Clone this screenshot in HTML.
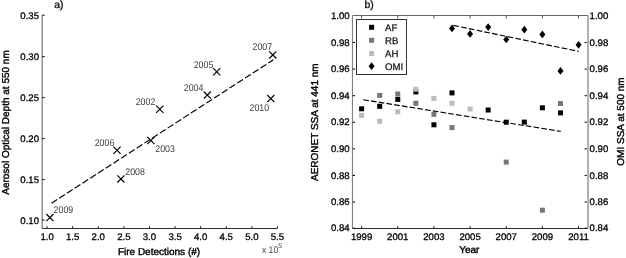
<!DOCTYPE html>
<html><head><meta charset="utf-8"><style>
html,body{margin:0;padding:0;background:#fff;}
svg{display:block;will-change:transform;}
text{font-family:"Liberation Sans",sans-serif;text-rendering:geometricPrecision;}
.tk{font-size:9.6px;fill:#000;stroke:#000;stroke-width:0.3px;}
.lab{font-size:10px;fill:#000;stroke:#000;stroke-width:0.4px;}
.yr{font-size:9.8px;fill:#3c3c3c;}
.sm{font-size:9.5px;fill:#444;}
.sup{font-size:6.8px;fill:#444;}
.ttl{font-size:10.4px;fill:#111;stroke:#111;stroke-width:0.35px;}
.lg{font-size:9.6px;fill:#111;stroke:#111;stroke-width:0.25px;}
</style></head><body>
<svg width="626" height="258" viewBox="0 0 626 258">
<line x1="42.2" y1="15.2" x2="42.2" y2="228.3" stroke="#888" stroke-width="1.4"/>
<line x1="42.2" y1="228.55" x2="277.5" y2="228.55" stroke="#2a2a2a" stroke-width="1.1"/>
<line x1="42.2" y1="15.20" x2="44.6" y2="15.20" stroke="#111" stroke-width="1.1"/>
<text x="39" y="18.70" text-anchor="end" class="tk">0.35</text>
<line x1="42.2" y1="56.58" x2="44.6" y2="56.58" stroke="#111" stroke-width="1.1"/>
<text x="39" y="59.68" text-anchor="end" class="tk">0.30</text>
<line x1="42.2" y1="97.56" x2="44.6" y2="97.56" stroke="#111" stroke-width="1.1"/>
<text x="39" y="100.66" text-anchor="end" class="tk">0.25</text>
<line x1="42.2" y1="138.54" x2="44.6" y2="138.54" stroke="#111" stroke-width="1.1"/>
<text x="39" y="141.64" text-anchor="end" class="tk">0.20</text>
<line x1="42.2" y1="179.52" x2="44.6" y2="179.52" stroke="#111" stroke-width="1.1"/>
<text x="39" y="182.62" text-anchor="end" class="tk">0.15</text>
<line x1="42.2" y1="220.10" x2="44.6" y2="220.10" stroke="#111" stroke-width="1.1"/>
<text x="39" y="223.60" text-anchor="end" class="tk">0.10</text>
<line x1="47.05" y1="228.3" x2="47.05" y2="226.10000000000002" stroke="#222" stroke-width="1"/>
<text x="47.05" y="239.6" text-anchor="middle" class="tk">1.0</text>
<line x1="72.65" y1="228.3" x2="72.65" y2="226.10000000000002" stroke="#222" stroke-width="1"/>
<text x="72.65" y="239.6" text-anchor="middle" class="tk">1.5</text>
<line x1="98.25" y1="228.3" x2="98.25" y2="226.10000000000002" stroke="#222" stroke-width="1"/>
<text x="98.25" y="239.6" text-anchor="middle" class="tk">2.0</text>
<line x1="123.85" y1="228.3" x2="123.85" y2="226.10000000000002" stroke="#222" stroke-width="1"/>
<text x="123.85" y="239.6" text-anchor="middle" class="tk">2.5</text>
<line x1="149.45" y1="228.3" x2="149.45" y2="226.10000000000002" stroke="#222" stroke-width="1"/>
<text x="149.45" y="239.6" text-anchor="middle" class="tk">3.0</text>
<line x1="175.05" y1="228.3" x2="175.05" y2="226.10000000000002" stroke="#222" stroke-width="1"/>
<text x="175.05" y="239.6" text-anchor="middle" class="tk">3.5</text>
<line x1="200.65" y1="228.3" x2="200.65" y2="226.10000000000002" stroke="#222" stroke-width="1"/>
<text x="200.65" y="239.6" text-anchor="middle" class="tk">4.0</text>
<line x1="226.25" y1="228.3" x2="226.25" y2="226.10000000000002" stroke="#222" stroke-width="1"/>
<text x="226.25" y="239.6" text-anchor="middle" class="tk">4.5</text>
<line x1="251.85" y1="228.3" x2="251.85" y2="226.10000000000002" stroke="#222" stroke-width="1"/>
<text x="251.85" y="239.6" text-anchor="middle" class="tk">5.0</text>
<line x1="277.45" y1="228.3" x2="277.45" y2="226.10000000000002" stroke="#222" stroke-width="1"/>
<text x="277.45" y="239.6" text-anchor="middle" class="tk">5.5</text>
<text x="159.0" y="255.3" text-anchor="middle" class="lab">Fire Detections (#)</text>
<text x="261.9" y="252.8" class="sm" textLength="16.3" lengthAdjust="spacingAndGlyphs">x 10</text><text x="278.3" y="248.3" class="sup">5</text>
<text x="58.8" y="8.3" text-anchor="middle" class="ttl">a)</text>
<text transform="translate(9.3,122.5) rotate(-90)" text-anchor="middle" class="lab">Aerosol Optical Depth at 550 nm</text>
<path d="M46.30,214.00L53.50,221.20M46.30,221.20L53.50,214.00" stroke="#000" stroke-width="1.2" fill="none"/>
<text x="53.6" y="212.8" class="yr" textLength="19.6" lengthAdjust="spacingAndGlyphs">2009</text>
<path d="M113.40,146.60L120.60,153.80M113.40,153.80L120.60,146.60" stroke="#000" stroke-width="1.2" fill="none"/>
<text x="94.7" y="146.2" class="yr" textLength="19.6" lengthAdjust="spacingAndGlyphs">2006</text>
<path d="M117.30,175.30L124.50,182.50M117.30,182.50L124.50,175.30" stroke="#000" stroke-width="1.2" fill="none"/>
<text x="125.3" y="175.0" class="yr" textLength="19.6" lengthAdjust="spacingAndGlyphs">2008</text>
<path d="M147.30,136.90L154.50,144.10M147.30,144.10L154.50,136.90" stroke="#000" stroke-width="1.2" fill="none"/>
<text x="155.3" y="152.1" class="yr" textLength="19.6" lengthAdjust="spacingAndGlyphs">2003</text>
<path d="M156.20,105.70L163.40,112.90M156.20,112.90L163.40,105.70" stroke="#000" stroke-width="1.2" fill="none"/>
<text x="135.7" y="105.1" class="yr" textLength="19.6" lengthAdjust="spacingAndGlyphs">2002</text>
<path d="M203.70,91.50L210.90,98.70M203.70,98.70L210.90,91.50" stroke="#000" stroke-width="1.2" fill="none"/>
<text x="183.8" y="91.1" class="yr" textLength="19.6" lengthAdjust="spacingAndGlyphs">2004</text>
<path d="M213.10,68.10L220.30,75.30M213.10,75.30L220.30,68.10" stroke="#000" stroke-width="1.2" fill="none"/>
<text x="193.7" y="67.7" class="yr" textLength="19.6" lengthAdjust="spacingAndGlyphs">2005</text>
<path d="M269.20,51.30L276.40,58.50M269.20,58.50L276.40,51.30" stroke="#000" stroke-width="1.2" fill="none"/>
<text x="252.5" y="50.1" class="yr" textLength="19.6" lengthAdjust="spacingAndGlyphs">2007</text>
<path d="M267.20,95.00L274.40,102.20M267.20,102.20L274.40,95.00" stroke="#000" stroke-width="1.2" fill="none"/>
<text x="249.5" y="111.0" class="yr" textLength="19.6" lengthAdjust="spacingAndGlyphs">2010</text>
<line x1="51.5" y1="203.2" x2="273.5" y2="59.7" stroke="#000" stroke-width="1.15" stroke-dasharray="6.75 2.47"/>
<line x1="352.45" y1="15.5" x2="352.45" y2="228.2" stroke="#808080" stroke-width="1.1"/>
<line x1="588" y1="15.5" x2="588" y2="228.2" stroke="#b2b2b2" stroke-width="2"/>
<line x1="352.6" y1="15.5" x2="587.8" y2="15.5" stroke="#666" stroke-width="1"/>
<line x1="352.6" y1="228.55" x2="587.8" y2="228.55" stroke="#2a2a2a" stroke-width="1.1"/>
<text x="349.6" y="18.70" text-anchor="end" class="tk">1.00</text>
<text x="589.6" y="18.70" class="tk">1.00</text>
<line x1="352.6" y1="42.49" x2="355.0" y2="42.49" stroke="#111" stroke-width="1.1"/>
<line x1="586.8" y1="42.49" x2="584.5999999999999" y2="42.49" stroke="#111" stroke-width="1.1"/>
<text x="349.6" y="45.69" text-anchor="end" class="tk">0.98</text>
<text x="589.6" y="45.69" class="tk">0.98</text>
<line x1="352.6" y1="69.08" x2="355.0" y2="69.08" stroke="#111" stroke-width="1.1"/>
<line x1="586.8" y1="69.08" x2="584.5999999999999" y2="69.08" stroke="#111" stroke-width="1.1"/>
<text x="349.6" y="72.28" text-anchor="end" class="tk">0.96</text>
<text x="589.6" y="72.28" class="tk">0.96</text>
<line x1="352.6" y1="95.67" x2="355.0" y2="95.67" stroke="#111" stroke-width="1.1"/>
<line x1="586.8" y1="95.67" x2="584.5999999999999" y2="95.67" stroke="#111" stroke-width="1.1"/>
<text x="349.6" y="98.87" text-anchor="end" class="tk">0.94</text>
<text x="589.6" y="98.87" class="tk">0.94</text>
<line x1="352.6" y1="122.26" x2="355.0" y2="122.26" stroke="#111" stroke-width="1.1"/>
<line x1="586.8" y1="122.26" x2="584.5999999999999" y2="122.26" stroke="#111" stroke-width="1.1"/>
<text x="349.6" y="125.46" text-anchor="end" class="tk">0.92</text>
<text x="589.6" y="125.46" class="tk">0.92</text>
<line x1="352.6" y1="148.85" x2="355.0" y2="148.85" stroke="#111" stroke-width="1.1"/>
<line x1="586.8" y1="148.85" x2="584.5999999999999" y2="148.85" stroke="#111" stroke-width="1.1"/>
<text x="349.6" y="152.05" text-anchor="end" class="tk">0.90</text>
<text x="589.6" y="152.05" class="tk">0.90</text>
<line x1="352.6" y1="175.44" x2="355.0" y2="175.44" stroke="#111" stroke-width="1.1"/>
<line x1="586.8" y1="175.44" x2="584.5999999999999" y2="175.44" stroke="#111" stroke-width="1.1"/>
<text x="349.6" y="178.64" text-anchor="end" class="tk">0.88</text>
<text x="589.6" y="178.64" class="tk">0.88</text>
<line x1="352.6" y1="202.03" x2="355.0" y2="202.03" stroke="#111" stroke-width="1.1"/>
<line x1="586.8" y1="202.03" x2="584.5999999999999" y2="202.03" stroke="#111" stroke-width="1.1"/>
<text x="349.6" y="205.23" text-anchor="end" class="tk">0.86</text>
<text x="589.6" y="205.23" class="tk">0.86</text>
<line x1="352.6" y1="228.22" x2="355.0" y2="228.22" stroke="#111" stroke-width="1.1"/>
<line x1="586.8" y1="228.22" x2="584.5999999999999" y2="228.22" stroke="#111" stroke-width="1.1"/>
<text x="349.6" y="231.42" text-anchor="end" class="tk">0.84</text>
<text x="589.6" y="231.42" class="tk">0.84</text>
<line x1="361.60" y1="228.2" x2="361.60" y2="226.0" stroke="#222" stroke-width="1"/>
<line x1="361.60" y1="15.5" x2="361.60" y2="18.5" stroke="#555" stroke-width="1"/>
<text x="361.60" y="239.6" text-anchor="middle" class="tk">1999</text>
<line x1="397.76" y1="228.2" x2="397.76" y2="226.0" stroke="#222" stroke-width="1"/>
<line x1="397.76" y1="15.5" x2="397.76" y2="18.5" stroke="#555" stroke-width="1"/>
<text x="397.76" y="239.6" text-anchor="middle" class="tk">2001</text>
<line x1="433.92" y1="228.2" x2="433.92" y2="226.0" stroke="#222" stroke-width="1"/>
<line x1="433.92" y1="15.5" x2="433.92" y2="18.5" stroke="#555" stroke-width="1"/>
<text x="433.92" y="239.6" text-anchor="middle" class="tk">2003</text>
<line x1="470.08" y1="228.2" x2="470.08" y2="226.0" stroke="#222" stroke-width="1"/>
<line x1="470.08" y1="15.5" x2="470.08" y2="18.5" stroke="#555" stroke-width="1"/>
<text x="470.08" y="239.6" text-anchor="middle" class="tk">2005</text>
<line x1="506.24" y1="228.2" x2="506.24" y2="226.0" stroke="#222" stroke-width="1"/>
<line x1="506.24" y1="15.5" x2="506.24" y2="18.5" stroke="#555" stroke-width="1"/>
<text x="506.24" y="239.6" text-anchor="middle" class="tk">2007</text>
<line x1="542.40" y1="228.2" x2="542.40" y2="226.0" stroke="#222" stroke-width="1"/>
<line x1="542.40" y1="15.5" x2="542.40" y2="18.5" stroke="#555" stroke-width="1"/>
<text x="542.40" y="239.6" text-anchor="middle" class="tk">2009</text>
<line x1="578.56" y1="228.2" x2="578.56" y2="226.0" stroke="#222" stroke-width="1"/>
<line x1="578.56" y1="15.5" x2="578.56" y2="18.5" stroke="#555" stroke-width="1"/>
<text x="578.56" y="239.6" text-anchor="middle" class="tk">2011</text>
<text x="469.3" y="253" text-anchor="middle" class="lab">Year</text>
<text x="369.2" y="8.3" text-anchor="middle" class="ttl">b)</text>
<text transform="translate(318.2,122.2) rotate(-90)" text-anchor="middle" class="lab">AERONET SSA at 441 nm</text>
<text transform="translate(624.2,121.5) rotate(-90)" text-anchor="middle" class="lab">OMI SSA at 500 nm</text>
<rect x="359.10" y="106.30" width="5" height="5" fill="#000"/>
<rect x="377.18" y="103.80" width="5" height="5" fill="#000"/>
<rect x="395.26" y="96.90" width="5" height="5" fill="#000"/>
<rect x="413.34" y="89.40" width="5" height="5" fill="#000"/>
<rect x="431.42" y="122.30" width="5" height="5" fill="#000"/>
<rect x="449.50" y="90.40" width="5" height="5" fill="#000"/>
<rect x="485.66" y="107.50" width="5" height="5" fill="#000"/>
<rect x="503.74" y="119.70" width="5" height="5" fill="#000"/>
<rect x="521.82" y="119.60" width="5" height="5" fill="#000"/>
<rect x="539.90" y="105.30" width="5" height="5" fill="#000"/>
<rect x="557.98" y="110.40" width="5" height="5" fill="#000"/>
<rect x="377.18" y="92.90" width="5" height="5" fill="#777"/>
<rect x="395.26" y="91.50" width="5" height="5" fill="#777"/>
<rect x="413.34" y="100.80" width="5" height="5" fill="#777"/>
<rect x="431.42" y="111.80" width="5" height="5" fill="#777"/>
<rect x="449.50" y="125.10" width="5" height="5" fill="#777"/>
<rect x="503.74" y="159.60" width="5" height="5" fill="#777"/>
<rect x="539.90" y="207.70" width="5" height="5" fill="#777"/>
<rect x="557.98" y="101.00" width="5" height="5" fill="#777"/>
<rect x="359.10" y="112.90" width="5" height="5" fill="#bbb"/>
<rect x="377.18" y="118.80" width="5" height="5" fill="#bbb"/>
<rect x="395.26" y="109.30" width="5" height="5" fill="#bbb"/>
<rect x="413.34" y="86.70" width="5" height="5" fill="#bbb"/>
<rect x="431.42" y="95.90" width="5" height="5" fill="#bbb"/>
<rect x="449.50" y="100.80" width="5" height="5" fill="#bbb"/>
<rect x="467.58" y="106.50" width="5" height="5" fill="#bbb"/>
<path d="M452.00,24.55L455.00,28.40L452.00,32.25L449.00,28.40Z" fill="#000"/>
<path d="M470.08,30.05L473.08,33.90L470.08,37.75L467.08,33.90Z" fill="#000"/>
<path d="M488.16,23.25L491.16,27.10L488.16,30.95L485.16,27.10Z" fill="#000"/>
<path d="M506.24,35.65L509.24,39.50L506.24,43.35L503.24,39.50Z" fill="#000"/>
<path d="M524.32,25.85L527.32,29.70L524.32,33.55L521.32,29.70Z" fill="#000"/>
<path d="M542.40,30.55L545.40,34.40L542.40,38.25L539.40,34.40Z" fill="#000"/>
<path d="M560.48,67.05L563.48,70.90L560.48,74.75L557.48,70.90Z" fill="#000"/>
<path d="M578.56,40.95L581.56,44.80L578.56,48.65L575.56,44.80Z" fill="#000"/>
<line x1="363.2" y1="99.7" x2="560.7" y2="131.4" stroke="#000" stroke-width="1.15" stroke-dasharray="5.65 2.19"/>
<line x1="453.4" y1="25.4" x2="578.6" y2="51.4" stroke="#000" stroke-width="1.15" stroke-dasharray="5.7 2.2"/>
<rect x="356.5" y="19.5" width="50" height="55" fill="#fff" stroke="#333" stroke-width="1"/>
<rect x="369.10" y="24.80" width="5" height="5" fill="#000"/>
<rect x="369.10" y="37.80" width="5" height="5" fill="#777"/>
<rect x="369.10" y="51.00" width="5" height="5" fill="#bbb"/>
<path d="M371.60,62.35L374.60,66.20L371.60,70.05L368.60,66.20Z" fill="#000"/>
<text x="385" y="30.5" class="lg">AF</text>
<text x="385" y="43.8" class="lg">RB</text>
<text x="385" y="57.0" class="lg">AH</text>
<text x="385" y="70.2" class="lg">OMI</text>
</svg>
</body></html>
